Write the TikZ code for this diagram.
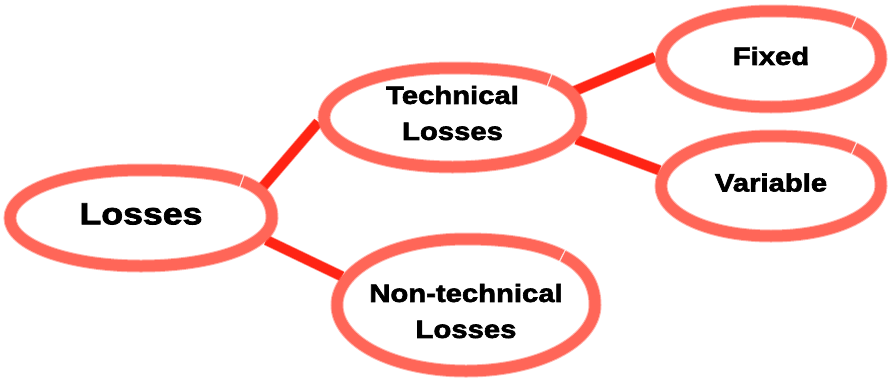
\documentclass[tikz,border=0pt]{standalone}
\usepackage{fontspec}
\setmainfont{Liberation Sans}[FakeStretch=1.17, BoldFeatures={FakeBold=2.5}]
\usetikzlibrary{shapes.geometric}
\definecolor{ringred}{RGB}{255,102,88}
\definecolor{linkred}{RGB}{255,36,20}
\pgfdeclarelayer{links}
\pgfdeclarelayer{rings}
\pgfsetlayers{links,rings,main}
\tikzset{
  oval/.style={ellipse, inner sep=0pt},
  caption/.style={inner sep=0pt, align=center,
    font=\bfseries\fontsize{25}{36}\selectfont},
  ring/.style={preaction={fill=white},
    preaction={draw=ringred, line width=13pt, draw opacity=0.5},
    draw=ringred, line width=11pt},
  link/.style={draw=linkred, line width=9.5pt,
    preaction={draw=linkred, line width=11pt, draw opacity=0.5}},
  seam/.style={draw=white, line width=1.2pt, draw opacity=0.8}
}
% hand-drawn oval round a node: #1 node, #2 half width, #3 half height,
% #4 handle factor of the upper right quarter (the bulge where the stroke closes)
\newcommand\drawring[4]{%
  \begin{scope}[shift={(#1.center)}]
    \draw[ring] (#2,0)
      .. controls (#2,{-#4*#3}) and ({#4*#2},-#3) .. (0,-#3)
      .. controls ({-0.56*#2},-#3) and (-#2,{-0.56*#3}) .. (-#2,0)
      .. controls (-#2,{0.56*#3}) and ({-0.56*#2},#3) .. (0,#3)
      .. controls ({0.56*#2},#3) and (#2,{0.56*#3}) .. cycle;
    \draw[seam] ({(0.5+0.375*#4)*#2+7*#3/veclen(#2,#3)},{-(0.5+0.375*#4)*#3-7*#2/veclen(#2,#3)})
             -- ({(0.5+0.375*#4)*#2-7*#3/veclen(#2,#3)},{-(0.5+0.375*#4)*#3+7*#2/veclen(#2,#3)});
  \end{scope}}
\begin{document}
\begin{tikzpicture}[x=1pt,y=-1pt]
  \useasboundingbox (0,0) rectangle (890,383);
  % the ovals
  \node[oval, minimum width=274pt, minimum height=108pt] (los) at (141,218) {};
  \node[oval, minimum width=269pt, minimum height=111pt] (tec) at (452.5,117.5) {};
  \node[oval, minimum width=232pt, minimum height=108pt] (fix) at (771,59) {};
  \node[oval, minimum width=232pt, minimum height=112pt] (var) at (771,186) {};
  \node[oval, minimum width=270pt, minimum height=144pt] (non) at (466,305) {};
  % their texts
  \node[caption, font=\bfseries\fontsize{30.5}{36}\selectfont]
       (losT) at ([yshift=4pt]los.center) {Losses};
  \node[caption] (tecT) at ([yshift=4.5pt]tec.center) {Technical\\Losses};
  \node[caption] (fixT) at ([yshift=3pt]fix.center) {Fixed};
  \node[caption] (varT) at ([yshift=3.5pt]var.center) {Variable};
  \node[caption] (nonT) at ([yshift=-6pt]non.center) {Non-technical\\Losses};
  \begin{pgfonlayer}{rings}
    \drawring{los}{131}{48}{0.72}
    \drawring{tec}{128.5}{49.5}{0.68}
    \drawring{fix}{110}{48}{0.68}
    \drawring{var}{110}{50}{0.68}
    \drawring{non}{129}{66}{0.66}
  \end{pgfonlayer}
  \begin{pgfonlayer}{links}
    \draw[link] (los.13) -- (tec.182);
    \draw[link] (los.350) -- (non.167);
    \draw[link] (tec.12) -- (fix.179);
    \draw[link] (tec.350) -- (var.172);
  \end{pgfonlayer}
\end{tikzpicture}
\end{document}
